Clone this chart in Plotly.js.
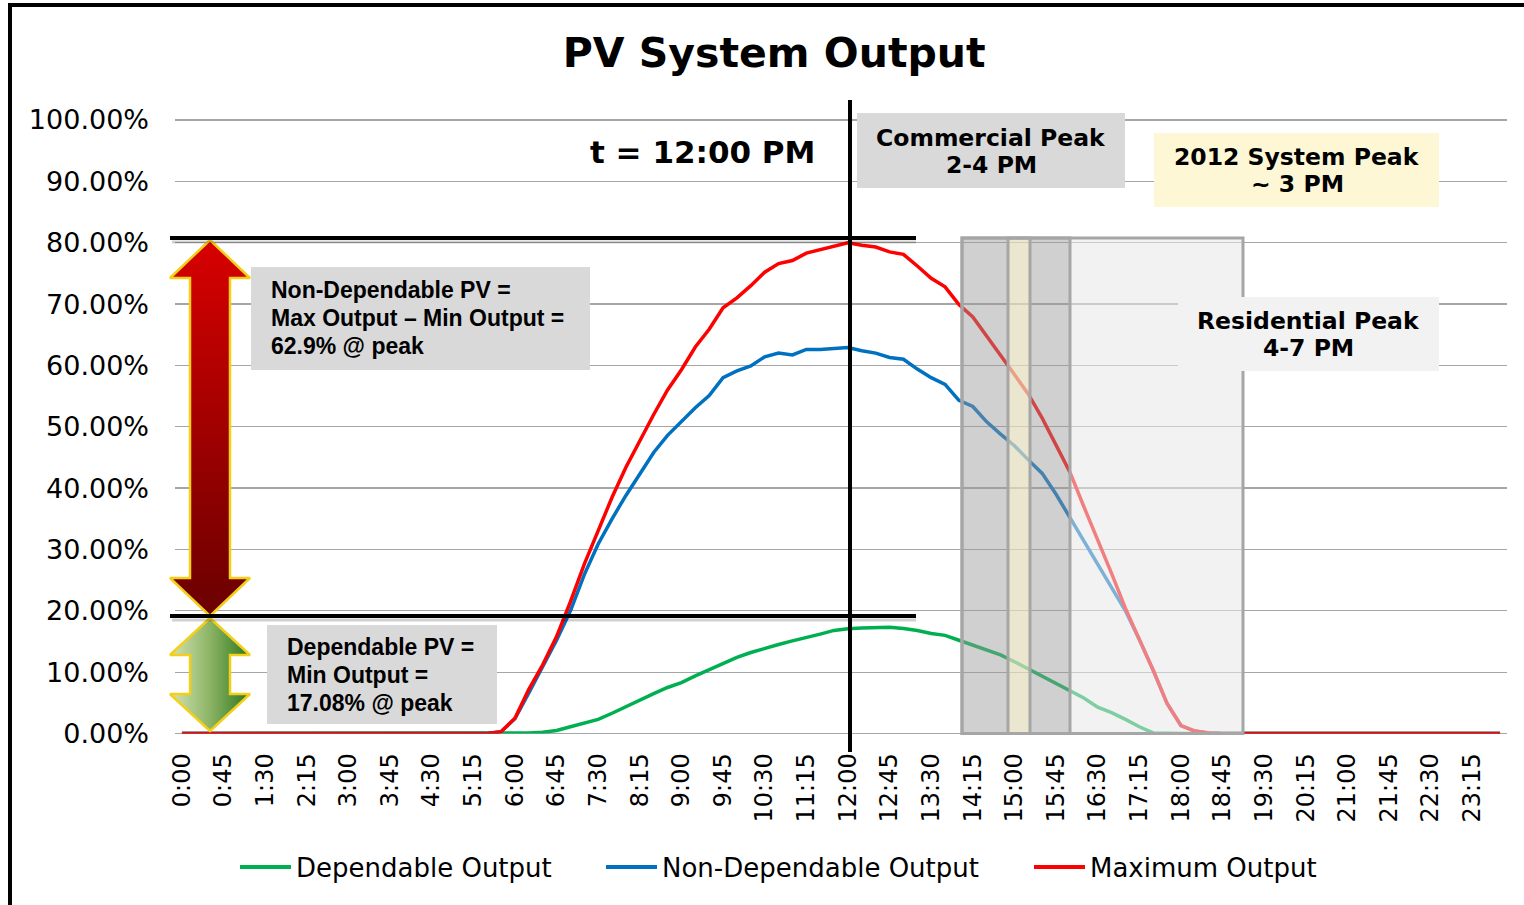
<!DOCTYPE html>
<html>
<head>
<meta charset="utf-8">
<script src="https://cdn.plot.ly/plotly-3.0.1.min.js"></script>
<style>
  html, body { margin: 0; padding: 0; background: #fff; }
  #chart { width: 1524px; height: 905px; }
</style>
</head>
<body>
<div id="chart"></div>
<script>
// ---------------- DATA ----------------
const times = ["0:00","0:15","0:30","0:45","1:00","1:15","1:30","1:45","2:00","2:15","2:30","2:45",
  "3:00","3:15","3:30","3:45","4:00","4:15","4:30","4:45","5:00","5:15","5:30","5:45",
  "6:00","6:15","6:30","6:45","7:00","7:15","7:30","7:45","8:00","8:15","8:30","8:45",
  "9:00","9:15","9:30","9:45","10:00","10:15","10:30","10:45","11:00","11:15","11:30","11:45",
  "12:00","12:15","12:30","12:45","13:00","13:15","13:30","13:45","14:00","14:15","14:30","14:45",
  "15:00","15:15","15:30","15:45","16:00","16:15","16:30","16:45","17:00","17:15","17:30","17:45",
  "18:00","18:15","18:30","18:45","19:00","19:15","19:30","19:45","20:00","20:15","20:30","20:45",
  "21:00","21:15","21:30","21:45","22:00","22:15","22:30","22:45","23:00","23:15","23:30","23:45"];

const tickLabels = ["0:00","0:45","1:30","2:15","3:00","3:45","4:30","5:15","6:00","6:45","7:30","8:15",
  "9:00","9:45","10:30","11:15","12:00","12:45","13:30","14:15","15:00","15:45","16:30","17:15",
  "18:00","18:45","19:30","20:15","21:00","21:45","22:30","23:15"];

const seriesNames = ["Dependable Output", "Non-Dependable Output", "Maximum Output"];

// Dependable Output (%)
const dependable = [0,0,0,0,0,0,0,0,0,0,0,0,0,0,0,0,0,0,0,0,0,0,0,0,0,
  0.1,0.2,0.5,1.1,1.7,2.3,3.3,4.4,5.5,6.5,7.5,8.3,9.4,10.4,11.4,12.4,13.2,13.9,14.5,15.1,15.6,16.2,16.8,17.08,
  17.2,17.3,17.3,17.1,16.8,16.3,16.0,15.2,14.4,13.7,12.8,11.7,10.5,9.4,8.2,6.9,5.8,4.3,3.4,2.3,1.1,0.1,
  0,0,0,0,0,0,0,0,0,0,0,0,0,0,0,0,0,0,0,0,0,0,0,0,0];

// Non-Dependable Output (%)
const nonDependable = [0,0,0,0,0,0,0,0,0,0,0,0,0,0,0,0,0,0,0,0,0,0,0,
  0.3,2.4,6.6,10.8,15.2,20.0,25.9,30.9,35.0,38.8,42.4,45.8,48.6,50.8,53.1,55.1,58.0,59.1,59.9,61.4,62.0,61.7,62.6,62.6,62.7,62.9,
  62.4,62.0,61.3,61.0,59.4,58.0,56.9,54.3,53.3,50.8,48.8,46.9,44.6,42.4,39.0,35.2,31.4,27.6,23.8,20.0,15.3,10.3,4.9,1.3,0.4,0.1,
  0,0,0,0,0,0,0,0,0,0,0,0,0,0,0,0,0,0,0,0,0];

// Maximum Output (%)
const maximum = [0,0,0,0,0,0,0,0,0,0,0,0,0,0,0,0,0,0,0,0,0,0,0,
  0.3,2.5,7.2,11.2,15.8,21.5,27.6,33.2,38.5,43.4,47.8,52.0,56.0,59.3,63.0,65.9,69.4,71.0,73.0,75.2,76.6,77.1,78.3,78.9,79.4,79.98,
  79.6,79.3,78.5,78.1,76.2,74.2,72.8,69.9,67.9,64.8,61.8,58.5,55.3,51.4,47.0,42.6,37.0,31.6,26.1,20.4,15.5,10.3,4.9,1.3,0.4,0.1,
  0,0,0,0,0,0,0,0,0,0,0,0,0,0,0,0,0,0,0,0,0];

const seriesColors = ["#00b050", "#0070c0", "#ff0000"];

// ---------------- LAYOUT HELPERS ----------------
const W = 1524, H = 905;
const px = x => x / W;
const py = y => 1 - y / H;

function rect(x0, y0, x1, y1, fill, lineColor, lineWidth) {
  return {type: 'rect', xref: 'paper', yref: 'paper', layer: 'above',
    x0: px(x0), x1: px(x1), y0: py(y1), y1: py(y0),
    fillcolor: fill || 'rgba(0,0,0,0)',
    line: {color: lineColor || 'rgba(0,0,0,0)', width: lineColor ? (lineWidth || 1) : 0}};
}
function seg(x0, y0, x1, y1, color, width) {
  return {type: 'line', xref: 'paper', yref: 'paper', layer: 'above',
    x0: px(x0), x1: px(x1), y0: py(y0), y1: py(y1),
    line: {color: color, width: width}};
}
function label(x, y, text, opts) {
  return Object.assign({xref: 'paper', yref: 'paper', x: px(x), y: py(y), text: text,
    showarrow: false, xanchor: 'center', yanchor: 'middle',
    font: {family: 'DejaVu Sans', size: 23, color: '#000'}}, opts || {});
}

// ---------------- TRACES ----------------
const legendIds = ['legend', 'legend2', 'legend3'];
const dataSeries = [dependable, nonDependable, maximum];
const traces = dataSeries.map((vals, i) => ({
  type: 'scatter', mode: 'lines', x: times, y: vals, name: seriesNames[i],
  line: {color: seriesColors[i], width: 3.5}, hoverinfo: 'skip',
  xaxis: 'x', yaxis: 'y', legend: legendIds[i]
}));

// decorative double arrows (pixel space overlay)
const redArrow = {
  type: 'scatter', mode: 'lines', xaxis: 'x2', yaxis: 'y2', showlegend: false, hoverinfo: 'skip',
  x: [210, 250, 230, 230, 250, 210, 170, 190, 190, 170, 210],
  y: [240, 278, 278, 578, 578, 616, 578, 578, 278, 278, 240],
  fill: 'toself', fillcolor: '#a80000',
  fillgradient: {type: 'vertical', start: 240, stop: 616, colorscale: [[0, '#d80000'], [1, '#6a0000']]},
  line: {color: '#f3cf1a', width: 2.5}
};
const greenArrow = {
  type: 'scatter', mode: 'lines', xaxis: 'x2', yaxis: 'y2', showlegend: false, hoverinfo: 'skip',
  x: [210, 250, 230, 230, 250, 210, 170, 190, 190, 170, 210],
  y: [618, 655, 655, 694, 694, 731, 694, 694, 655, 655, 618],
  fill: 'toself', fillcolor: '#7aa650',
  fillgradient: {type: 'horizontal', start: 170, stop: 250, colorscale: [[0, '#d4e3b8'], [0.5, '#8cb464'], [1, '#2b761d']]},
  line: {color: '#f3cf1a', width: 2.5}
};

// ---------------- SHAPES ----------------
const shapes = [
  // outer chart frame
  seg(10, 905, 10, 5, '#000', 4),
  seg(8, 5, 1524, 5, '#000', 4),
  // residential peak shading (outside commercial part)
  rect(1070, 238, 1243, 733.5, 'rgba(232,232,232,0.55)'),
  // commercial peak shading
  rect(962, 238, 1008, 733.5, 'rgba(152,152,152,0.46)'),
  rect(1030, 238, 1070, 733.5, 'rgba(152,152,152,0.46)'),
  // system peak
  rect(1008, 238, 1030, 733.5, 'rgba(226,221,190,0.72)'),
  // outlines
  rect(962, 238, 1243, 733.5, null, '#a6a6a6', 3),
  rect(962, 238, 1070, 733.5, null, '#a6a6a6', 3),
  rect(1008, 238, 1030, 733.5, null, '#a6a6a6', 3),
  // shadow of black reference lines
  seg(172, 242, 916, 242, 'rgba(0,0,0,0.18)', 3),
  seg(172, 620, 916, 620, 'rgba(0,0,0,0.18)', 3),
  // black reference lines
  seg(170, 238, 916, 238, '#000', 4),
  seg(170, 616, 916, 616, '#000', 4),
  seg(850, 100, 850, 752, '#000', 4),
  // text boxes
  rect(857, 113, 1125, 188, '#d9d9d9'),
  rect(1154, 133, 1439, 207, '#fdf7d6'),
  rect(1178, 297, 1439, 371, '#f2f2f2'),
  rect(251, 267, 590, 370, '#d9d9d9'),
  rect(267, 625, 497, 724, '#d9d9d9'),
  // longer legend line samples (as in the original legend)
  seg(240, 867, 291, 867, seriesColors[0], 4),
  seg(606, 867, 657, 867, seriesColors[1], 4),
  seg(1034, 867, 1085, 867, seriesColors[2], 4)
];

// ---------------- ANNOTATIONS ----------------
const boldFont = {family: 'DejaVu Sans', size: 23.5, color: '#000'};
const pvFont = {family: 'Liberation Sans', size: 23, color: '#000'};
const annotations = [
  label(702, 152, '<b>t = 12:00 PM</b>', {font: {family: 'DejaVu Sans', size: 31, color: '#000'}}),
  label(991, 138, '<b>Commercial Peak</b>', {font: boldFont}),
  label(991, 165, '<b>2-4 PM</b>', {font: boldFont}),
  label(1297, 157, '<b>2012 System Peak</b>', {font: boldFont}),
  label(1297, 184, '<b>~ 3 PM</b>', {font: boldFont}),
  label(1308, 321, '<b>Residential Peak</b>', {font: boldFont}),
  label(1308, 348, '<b>4-7 PM</b>', {font: boldFont}),
  label(269, 290, '<b>Non-Dependable PV =</b>', {xanchor: 'left', font: pvFont}),
  label(269, 318, '<b>Max Output – Min Output =</b>', {xanchor: 'left', font: pvFont}),
  label(269, 346, '<b>62.9% @ peak</b>', {xanchor: 'left', font: pvFont}),
  label(285, 647, '<b>Dependable PV =</b>', {xanchor: 'left', font: pvFont}),
  label(285, 675, '<b>Min Output =</b>', {xanchor: 'left', font: pvFont}),
  label(285, 703, '<b>17.08% @ peak</b>', {xanchor: 'left', font: pvFont})
];

const legendFont = {family: 'DejaVu Sans', size: 26, color: '#000'};
function legendAt(textLeft) {
  return {orientation: 'h', x: px(textLeft - 40), xanchor: 'left', y: py(867), yanchor: 'middle',
          font: legendFont, bgcolor: 'rgba(0,0,0,0)', borderwidth: 0};
}

const layout = {
  width: W, height: H,
  margin: {l: 0, r: 0, t: 0, b: 0},
  paper_bgcolor: '#ffffff',
  plot_bgcolor: 'rgba(0,0,0,0)',
  title: {text: '<b>PV System Output</b>', x: 0.508, xanchor: 'center', y: py(53), yanchor: 'middle',
          font: {family: 'DejaVu Sans', size: 41, color: '#000'}},
  xaxis: {
    type: 'category', domain: [175 / W, 1507 / W], range: [-0.5, 95.5], anchor: 'y',
    tickmode: 'array', tickvals: tickLabels, ticktext: tickLabels, tickangle: -90,
    tickfont: {family: 'DejaVu Sans', size: 24, color: '#000'},
    showgrid: false, zeroline: false, showline: false, ticks: '', ticklabelstandoff: 14,
    fixedrange: true
  },
  yaxis: {
    domain: [1 - 733.5 / H, 1 - 117.55 / H], range: [0, 100.4], anchor: 'x',
    tick0: 0, dtick: 10, tickformat: '.2f', ticksuffix: '%',
    tickfont: {family: 'DejaVu Sans', size: 27, color: '#000'},
    showgrid: true, gridcolor: '#a6a6a6', gridwidth: 1.3,
    zeroline: true, zerolinecolor: '#a6a6a6', zerolinewidth: 1.3,
    showline: false, ticks: '', ticklabelstandoff: 25, fixedrange: true
  },
  xaxis2: {domain: [0, 1], range: [0, W], visible: false, anchor: 'y2', fixedrange: true},
  yaxis2: {domain: [0, 1], range: [H, 0], visible: false, anchor: 'x2', fixedrange: true},
  showlegend: true,
  legend: legendAt(296),
  legend2: legendAt(662),
  legend3: legendAt(1090),
  shapes: shapes,
  annotations: annotations
};

Plotly.newPlot('chart', traces.concat([redArrow, greenArrow]), layout, {displayModeBar: false, staticPlot: true});
</script>
</body>
</html>
